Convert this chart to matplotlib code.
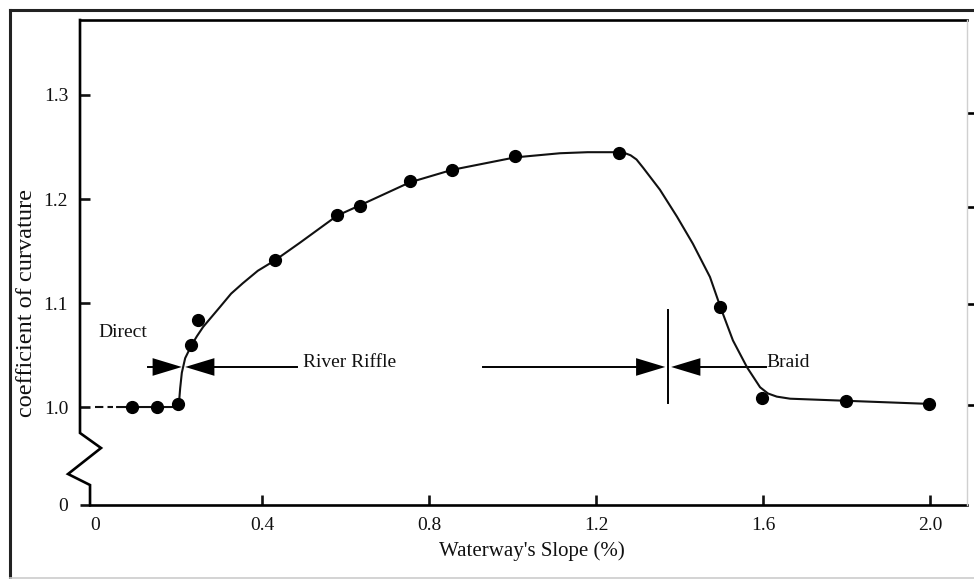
import matplotlib.pyplot as plt
from matplotlib.lines import Line2D

plt.rcParams['font.family'] = ['Liberation Serif', 'DejaVu Serif']

# measured points
slope = [0.089, 0.149, 0.199, 0.230, 0.247, 0.431, 0.580, 0.635, 0.754, 0.855,
         1.006, 1.255, 1.497, 1.598, 1.799, 1.998]
curv = [1.000, 1.000, 1.003, 1.060, 1.084, 1.141, 1.185, 1.193, 1.217, 1.228,
        1.241, 1.244, 1.096, 1.009, 1.006, 1.003]

# hand drawn fit curve
fit_x = [0.053, 0.197, 0.200, 0.202, 0.204, 0.208, 0.216, 0.232, 0.244, 0.259,
         0.299, 0.326, 0.354, 0.390, 0.431, 0.491, 0.580, 0.635, 0.754, 0.855,
         1.006, 1.114, 1.180, 1.255, 1.270, 1.283, 1.297, 1.313, 1.353, 1.394,
         1.432, 1.473, 1.499, 1.528, 1.562, 1.593, 1.612, 1.633, 1.665, 1.799,
         1.998]
fit_y = [1.000, 1.000, 1.003, 1.008, 1.018, 1.033, 1.047, 1.060, 1.068, 1.077,
         1.096, 1.109, 1.119, 1.131, 1.141, 1.158, 1.184, 1.194, 1.216, 1.228,
         1.240, 1.244, 1.245, 1.245, 1.244, 1.242, 1.238, 1.230, 1.209, 1.183,
         1.157, 1.125, 1.095, 1.064, 1.038, 1.019, 1.013, 1.010, 1.008, 1.006,
         1.003]
lead_x = [0.0, 0.042]
lead_y = [1.0, 1.0]

xticks = [0, 0.4, 0.8, 1.2, 1.6, 2.0]
xlabels = ['0', '0.4', '0.8', '1.2', '1.6', '2.0']
ybottom = 0.9058
yticks = [ybottom, 1.0, 1.1, 1.2, 1.3]
ylabels = ['0', '1.0', '1.1', '1.2', '1.3']
right_ticks = [1.002, 1.099, 1.192, 1.283]

# zone boundaries and labels
bounds = [0.212, 1.372]
arrow_y = 1.0385
zones = ['Direct', 'River Riffle', 'Braid']
zone_x = [0.007, 0.498, 1.607]
zone_y = [1.072, 1.043, 1.043]

fig = plt.figure(figsize=(9.74, 5.79), dpi=100)
ax = fig.add_axes([80/974, 74/579, 887/974, 485/579])
ax.set_xlim(-0.0359, 2.0886)
ax.set_ylim(ybottom, 1.3721)

ax.plot(fit_x, fit_y, color='#111111', lw=1.5, zorder=3,
        solid_joinstyle='round')
ax.plot(lead_x, lead_y, color='#111111', lw=1.5, ls=(0, (4, 2)), zorder=3)
ax.plot(slope, curv, 'o', color='black', ms=8.5, zorder=4)

# zone arrows
tw, th = 0.070, 0.0085
lw_a = 1.4
b0, b1 = bounds
ax.plot([b0 - 0.085, b0 - tw - 0.004], [arrow_y] * 2, color='k', lw=lw_a)
ax.fill([b0 - tw - 0.004, b0 - 0.004, b0 - tw - 0.004],
        [arrow_y - th, arrow_y, arrow_y + th], color='k', lw=0)
ax.fill([b0 + tw + 0.004, b0 + 0.004, b0 + tw + 0.004],
        [arrow_y - th, arrow_y, arrow_y + th], color='k', lw=0)
ax.plot([b0 + tw, zone_x[1] - 0.014], [arrow_y] * 2, color='k', lw=lw_a)

ax.plot([0.929, b1 - tw - 0.006], [arrow_y] * 2, color='k', lw=lw_a)
ax.fill([b1 - tw - 0.006, b1 - 0.006, b1 - tw - 0.006],
        [arrow_y - th, arrow_y, arrow_y + th], color='k', lw=0)
ax.fill([b1 + tw + 0.008, b1 + 0.008, b1 + tw + 0.008],
        [arrow_y - th, arrow_y, arrow_y + th], color='k', lw=0)
ax.plot([b1 + tw, zone_x[2]], [arrow_y] * 2, color='k', lw=lw_a)
ax.plot([b1, b1], [1.004, 1.093], color='k', lw=1.4)

for name, zx, zy in zip(zones, zone_x, zone_y):
    ax.text(zx, zy, name, fontsize=14, ha='left', va='center', color='#111111')

# axes frame
for s in ['left', 'right']:
    ax.spines[s].set_visible(False)
ax.spines['top'].set_linewidth(1.9)
ax.spines['bottom'].set_linewidth(1.9)
ax.spines['bottom'].set_bounds(-0.012, 2.0886)
brk_x = [0, 0, 0.0237, -0.0135, 0.0113, 0.0113]
brk_y = [1, 0.1485, 0.1175, 0.0639, 0.0412, 0]
ax.plot(brk_x, brk_y, color='k', lw=1.9, transform=ax.transAxes,
        clip_on=False, solid_joinstyle='miter')

ax.set_xticks(xticks)
ax.set_xticklabels(xlabels)
ax.set_yticks(yticks)
ax.set_yticklabels(ylabels)
ax.tick_params(axis='x', direction='in', length=7.5, width=1.9, pad=9,
               labelsize=14, colors='#111111')
ax.tick_params(axis='y', direction='in', length=7.5, width=1.9, pad=8.5,
               labelsize=14, colors='#111111')
ax.xaxis.get_major_ticks()[0].tick1line.set_visible(False)
ax.yaxis.get_major_ticks()[0].tick1line.set_visible(False)

ax2 = ax.twinx()
ax2.set_ylim(ax.get_ylim())
ax2.set_yticks(right_ticks)
ax2.set_yticklabels([])
for s in ['left', 'top', 'bottom']:
    ax2.spines[s].set_visible(False)
ax2.spines['right'].set_color('#d0d0d0')
ax2.spines['right'].set_linewidth(1.0)
ax2.tick_params(axis='y', direction='out', length=6, width=1.9, color='k')

fig.text(532/974, 1 - 551/579, "Waterway's Slope (%)", fontsize=15,
         ha='center', va='center', color='#111111')
fig.text(27/974, 1 - 303/579, 'coefficient of curvature', fontsize=17.5,
         rotation=90, ha='center', va='center', color='#111111')

# outer frame of the picture
fig.add_artist(Line2D([10/974, 1], [1 - 10/579] * 2, color='#222222', lw=2.2))
fig.add_artist(Line2D([10/974] * 2, [0, 1 - 10/579], color='#222222', lw=2.2))
fig.add_artist(Line2D([10/974, 1], [1.5/579] * 2, color='#cccccc', lw=1.2))

fig.savefig('out.png', dpi=100)
